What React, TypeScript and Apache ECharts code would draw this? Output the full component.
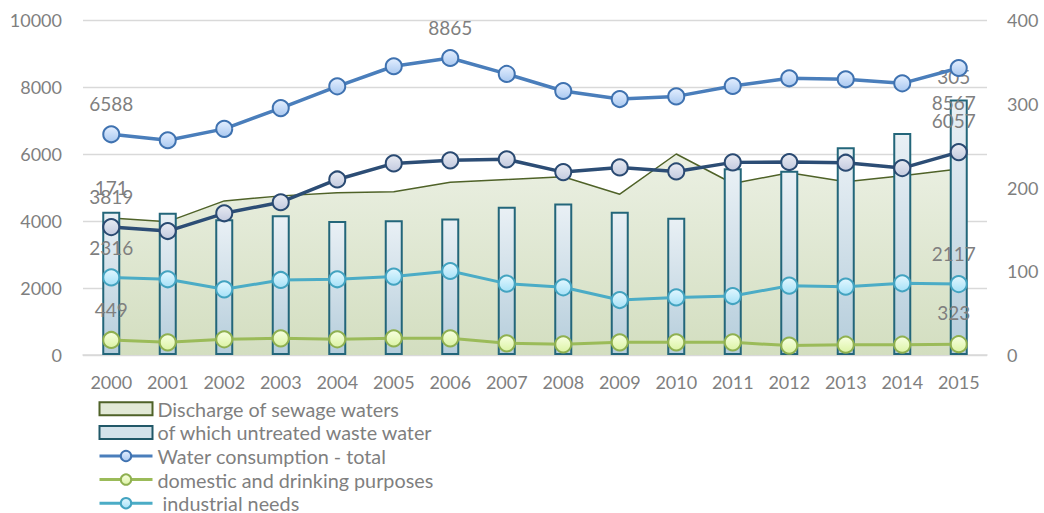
import React, { useEffect, useRef } from "react";
import * as echarts from "echarts";

const years = ["2000","2001","2002","2003","2004","2005","2006","2007","2008","2009","2010","2011","2012","2013","2014","2015"];
const sewageDischarge = [4090, 3980, 4600, 4750, 4840, 4870, 5160, 5240, 5320, 4800, 6000, 5120, 5440, 5170, 5350, 5550];
const untreatedWaste = [171, 170, 162, 167, 160, 161, 163, 177, 181, 171, 164, 223, 220, 248, 265, 305];
const consumptionTotal = [6588, 6410, 6750, 7370, 8020, 8620, 8865, 8390, 7880, 7640, 7720, 8030, 8260, 8230, 8110, 8567];
const otherUse = [3819, 3700, 4230, 4560, 5240, 5720, 5810, 5840, 5460, 5600, 5480, 5750, 5760, 5740, 5580, 6057];
const domesticUse = [449, 378, 468, 497, 468, 497, 497, 348, 318, 378, 378, 378, 280, 308, 308, 323];
const industrialUse = [2316, 2260, 1960, 2240, 2260, 2340, 2507, 2130, 2020, 1640, 1720, 1760, 2070, 2040, 2140, 2117];
const leftTicks = { min: 0, max: 10000, interval: 2000 };
const rightTicks = { min: 0, max: 400, interval: 100 };

const FONT = "Lato, 'Noto Sans', sans-serif";
const GRAY = "#7f7f7f";

function withLabels(values: number[], labelled: Record<number, number[]>) {
  return values.map((v, i) => {
    const off = labelled[i];
    if (!off) return v;
    return {
      value: v,
      label: { show: true, position: "inside", offset: off, color: GRAY, fontSize: 19, fontFamily: FONT },
    };
  });
}

function barWithLabels(values: number[], labelled: Record<number, number[]>) {
  return values.map((v, i) => {
    const off = labelled[i];
    if (!off) return v;
    return {
      value: v,
      label: { show: true, position: "top", distance: 15, offset: off, color: GRAY, fontSize: 19, fontFamily: FONT },
    };
  });
}

function markerStyle(fillTop: string, fillBottom: string, border: string) {
  return {
    color: new echarts.graphic.LinearGradient(0, 0, 0, 1, [
      { offset: 0, color: fillTop },
      { offset: 1, color: fillBottom },
    ]),
    borderColor: border,
    borderWidth: 2,
  };
}

export default function App() {
  const ref = useRef<HTMLDivElement>(null);
  useEffect(() => {
    if (!ref.current) return;
    const chart = echarts.init(ref.current, null, { renderer: "svg" });
    chart.setOption({
      animation: false,
      backgroundColor: "#ffffff",
      grid: { left: 83, right: 57, top: 20, bottom: 158 },
      legend: {
        orient: "vertical",
        left: 93,
        top: 392,
        height: 130,
        itemWidth: 53,
        itemHeight: 13,
        itemGap: 0,
        textStyle: { color: GRAY, fontSize: 19.8, fontFamily: FONT, lineHeight: 23.6 },
        data: [
          { name: "Discharge of sewage waters", icon: "rect", itemStyle: { color: "#e2e9d6", borderColor: "#4f6228", borderWidth: 2 } },
          { name: "of which untreated waste water", icon: "rect", itemStyle: { color: "#d3e2ea", borderColor: "#215868", borderWidth: 2 } },
          { name: "Water consumption - total", lineStyle: { width: 3 } },
          { name: "domestic and drinking purposes", lineStyle: { width: 3 } },
          { name: " industrial needs", lineStyle: { width: 3 } },
        ],
      },
      xAxis: {
        type: "category",
        data: years,
        boundaryGap: true,
        axisLine: { lineStyle: { color: "#d9d9d9", width: 1.5 } },
        axisTick: { show: false },
        axisLabel: { color: GRAY, fontSize: 18, fontFamily: FONT, margin: 18 },
      },
      yAxis: [
        {
          type: "value",
          ...leftTicks,
          axisLine: { show: false },
          axisTick: { show: false },
          splitLine: { lineStyle: { color: "#d9d9d9", width: 1.3 } },
          axisLabel: { color: GRAY, fontSize: 18, fontFamily: FONT, margin: 21, formatter: (v: number) => String(v) },
        },
        {
          type: "value",
          ...rightTicks,
          position: "right",
          axisLine: { show: false },
          axisTick: { show: false },
          splitLine: { show: false },
          axisLabel: { color: GRAY, fontSize: 18, fontFamily: FONT, margin: 20, formatter: (v: number) => String(v) },
        },
      ],
      series: [
        {
          name: "Discharge of sewage waters",
          type: "line",
          yAxisIndex: 0,
          data: sewageDischarge,
          symbol: "none",
          z: 1,
          lineStyle: { color: "#4f6228", width: 1.5 },
          itemStyle: { color: "#4f6228" },
          areaStyle: {
            color: new echarts.graphic.LinearGradient(0, 0, 0, 1, [
              { offset: 0, color: "#ebf0e3" },
              { offset: 1, color: "#d3dec0" },
            ]),
            opacity: 1,
          },
        },
        {
          name: "of which untreated waste water",
          type: "bar",
          yAxisIndex: 1,
          barWidth: 18,
          z: 2,
          data: barWithLabels(untreatedWaste, { 0: [0, 0], 15: [-5, 1] }),
          itemStyle: {
            color: new echarts.graphic.LinearGradient(0, 0, 0, 1, [
              { offset: 0, color: "#e9f0f5" },
              { offset: 1, color: "#b5cddb" },
            ]),
            borderColor: "#23667a",
            borderWidth: 2,
          },
        },
        {
          name: "Water consumption - total",
          type: "line",
          yAxisIndex: 0,
          z: 5,
          data: withLabels(consumptionTotal, { 0: [0, -31], 6: [0, -31], 15: [-5, 34] }),
          symbol: "circle",
          symbolSize: 16,
          lineStyle: { color: "#4a7ebb", width: 3.5 },
          itemStyle: markerStyle("#e4efff", "#a9c8f0", "#3f72b0"),
        },
        {
          name: "Other",
          type: "line",
          yAxisIndex: 0,
          z: 4,
          data: withLabels(otherUse, { 0: [0, -31], 15: [-5, -32] }),
          symbol: "circle",
          symbolSize: 16,
          lineStyle: { color: "#2c4d75", width: 3.5 },
          itemStyle: markerStyle("#e8ebf3", "#c3cadf", "#2a4a72"),
        },
        {
          name: "domestic and drinking purposes",
          type: "line",
          yAxisIndex: 0,
          z: 4,
          data: withLabels(domesticUse, { 0: [0, -30], 15: [-5, -32] }),
          symbol: "circle",
          symbolSize: 16,
          lineStyle: { color: "#9bbb59", width: 3 },
          itemStyle: markerStyle("#f7ffe0", "#dcf3a5", "#8fb050"),
        },
        {
          name: " industrial needs",
          type: "line",
          yAxisIndex: 0,
          z: 4,
          data: withLabels(industrialUse, { 0: [0, -30], 15: [-5, -31] }),
          symbol: "circle",
          symbolSize: 16,
          lineStyle: { color: "#4bacc6", width: 3 },
          itemStyle: markerStyle("#e2f7ff", "#a6e1f7", "#43a3c0"),
        },
      ],
    });
    return () => chart.dispose();
  }, []);
  return <div ref={ref} style={{ position: "absolute", left: 0, top: 0, width: 1044, height: 513 }} />;
}
